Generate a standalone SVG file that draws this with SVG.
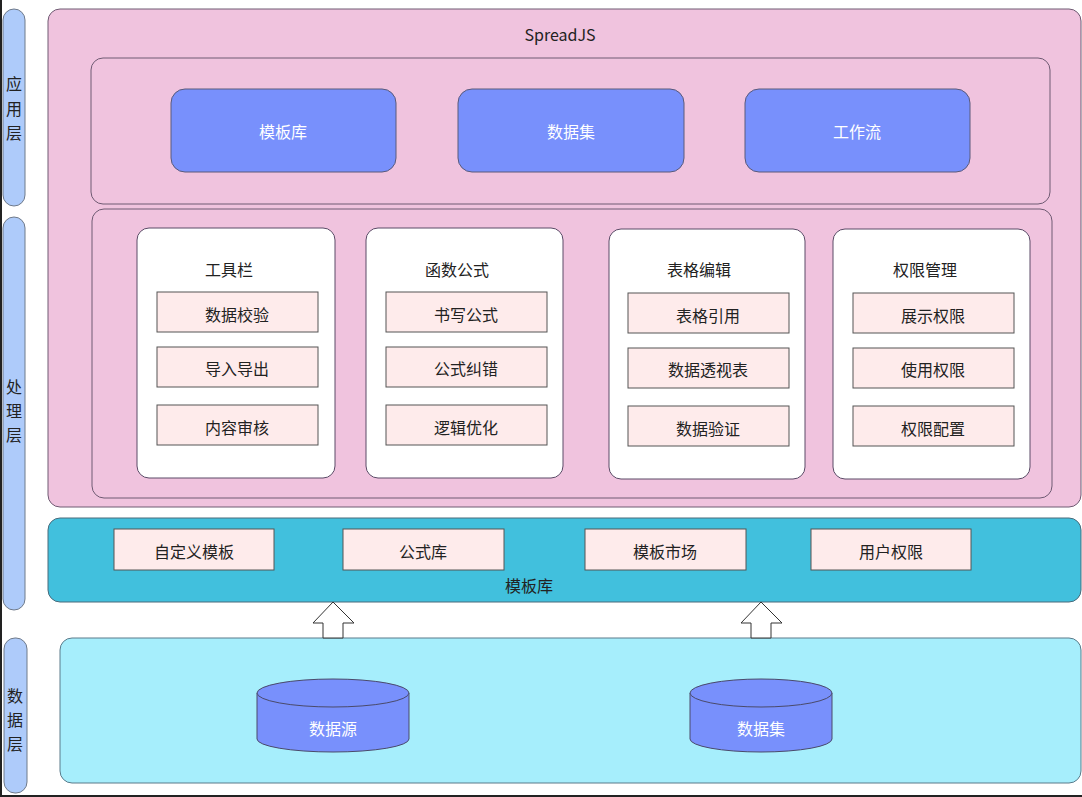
<svg xmlns="http://www.w3.org/2000/svg" width="1082" height="797" viewBox="0 0 1082 797">
<style>
text{font-family:"Microsoft YaHei","Noto Sans CJK SC","Liberation Sans",sans-serif;font-size:16px;text-anchor:middle;dominant-baseline:central;fill:#222}
.lane{fill:#aecbfa;stroke:#6f7a8a;stroke-width:1}
.frame{fill:#f0c3de;stroke:#6e5a72;stroke-width:1}
.app{fill:#7890fc;stroke:#5a5a7a;stroke-width:1}
.card{fill:#ffffff;stroke:#5a4a66;stroke-width:1}
.item{fill:#feebeb;stroke:#555;stroke-width:1}
.w{fill:#ffffff}
</style>
<rect x="0" y="0" width="1082" height="797" fill="#ffffff"/>
<line x1="1" y1="0" x2="1" y2="797" stroke="#222" stroke-width="2"/>
<line x1="0" y1="796" x2="1082" y2="796" stroke="#222" stroke-width="2"/>

<g id="lane-app"><rect class="lane" x="3" y="9" width="22" height="197" rx="11"/><text x="14" y="83">应</text><text x="14" y="108">用</text><text x="14" y="132">层</text></g>
<g id="lane-proc"><rect class="lane" x="3" y="217" width="22" height="393" rx="11"/><text x="14" y="386">处</text><text x="14" y="410">理</text><text x="14" y="434">层</text></g>
<g id="lane-data"><rect class="lane" x="4" y="638" width="23" height="155" rx="11"/><text x="15" y="695">数</text><text x="15" y="719">据</text><text x="15" y="743">层</text></g>

<g id="spreadjs"><rect class="frame" x="48" y="9" width="1033" height="498" rx="12"/><text x="560" y="34">SpreadJS</text></g>
<g id="app-frame"><rect class="frame" x="91" y="58" width="959" height="146" rx="12"/></g>
<g id="app-templates"><rect class="app" x="171" y="89" width="225" height="83" rx="14"/><text class="w" x="283" y="131" style="fill:#fff">模板库</text></g>
<g id="app-datasets"><rect class="app" x="458" y="89" width="226" height="83" rx="14"/><text x="571" y="131" style="fill:#fff">数据集</text></g>
<g id="app-workflow"><rect class="app" x="745" y="89" width="225" height="83" rx="14"/><text x="857" y="131" style="fill:#fff">工作流</text></g>

<g id="proc-frame"><rect class="frame" x="92" y="209" width="960" height="289" rx="12"/></g>

<g id="toolbar"><rect class="card" x="137" y="228" width="198" height="250" rx="12"/><text x="229" y="269">工具栏</text>
<rect class="item" x="157" y="292" width="161" height="40"/><text x="237" y="314">数据校验</text>
<rect class="item" x="157" y="347" width="161" height="40"/><text x="237" y="368">导入导出</text>
<rect class="item" x="157" y="405" width="161" height="40"/><text x="237" y="427">内容审核</text></g>

<g id="formula"><rect class="card" x="366" y="228" width="197" height="250" rx="12"/><text x="457" y="269">函数公式</text>
<rect class="item" x="386" y="292" width="161" height="40"/><text x="466" y="314">书写公式</text>
<rect class="item" x="386" y="347" width="161" height="40"/><text x="466" y="368">公式纠错</text>
<rect class="item" x="386" y="405" width="161" height="40"/><text x="466" y="427">逻辑优化</text></g>

<g id="sheet-edit"><rect class="card" x="609" y="229" width="196" height="250" rx="12"/><text x="699" y="269">表格编辑</text>
<rect class="item" x="628" y="293" width="161" height="40"/><text x="708" y="315">表格引用</text>
<rect class="item" x="628" y="348" width="161" height="40"/><text x="708" y="369">数据透视表</text>
<rect class="item" x="628" y="406" width="161" height="40"/><text x="708" y="428">数据验证</text></g>

<g id="permission"><rect class="card" x="833" y="229" width="197" height="250" rx="12"/><text x="925" y="269">权限管理</text>
<rect class="item" x="853" y="293" width="161" height="40"/><text x="933" y="315">展示权限</text>
<rect class="item" x="853" y="348" width="161" height="40"/><text x="933" y="369">使用权限</text>
<rect class="item" x="853" y="406" width="161" height="40"/><text x="933" y="428">权限配置</text></g>

<g id="template-lib"><rect x="48" y="518" width="1033" height="84" rx="12" fill="#41c0dd" stroke="#4a6a7a" stroke-width="1"/><text x="529" y="585">模板库</text>
<rect class="item" x="114" y="529" width="160" height="41"/><text x="194" y="551">自定义模板</text>
<rect class="item" x="343" y="529" width="161" height="41"/><text x="423" y="551">公式库</text>
<rect class="item" x="585" y="529" width="161" height="41"/><text x="665" y="551">模板市场</text>
<rect class="item" x="811" y="529" width="160" height="41"/><text x="891" y="551">用户权限</text></g>

<g id="data-layer"><rect x="60" y="638" width="1021" height="145" rx="12" fill="#a6eefc" stroke="#5a7a8a" stroke-width="1"/></g>
<g id="datasource"><path d="M257,693 L257,739 A76,13 0 0 0 409,739 L409,693" fill="#7890fc" stroke="#4a4a6a"/><ellipse cx="333" cy="693" rx="76" ry="14" fill="#7890fc" stroke="#4a4a6a"/><text x="333" y="728" style="fill:#fff">数据源</text></g>
<g id="dataset"><path d="M690,693 L690,739 A71,13 0 0 0 832,739 L832,693" fill="#7890fc" stroke="#4a4a6a"/><ellipse cx="761" cy="693" rx="71" ry="14" fill="#7890fc" stroke="#4a4a6a"/><text x="761" y="728" style="fill:#fff">数据集</text></g>

<g id="connectors">
<path d="M323,638 L323,623 L313,623 L333,602 L354,623 L343,623 L343,638 Z" fill="#ffffff" stroke="#333" stroke-width="1"/>
<path d="M751,638 L751,623 L741,623 L761,602 L782,623 L771,623 L771,638 Z" fill="#ffffff" stroke="#333" stroke-width="1"/>
</g>
</svg>
